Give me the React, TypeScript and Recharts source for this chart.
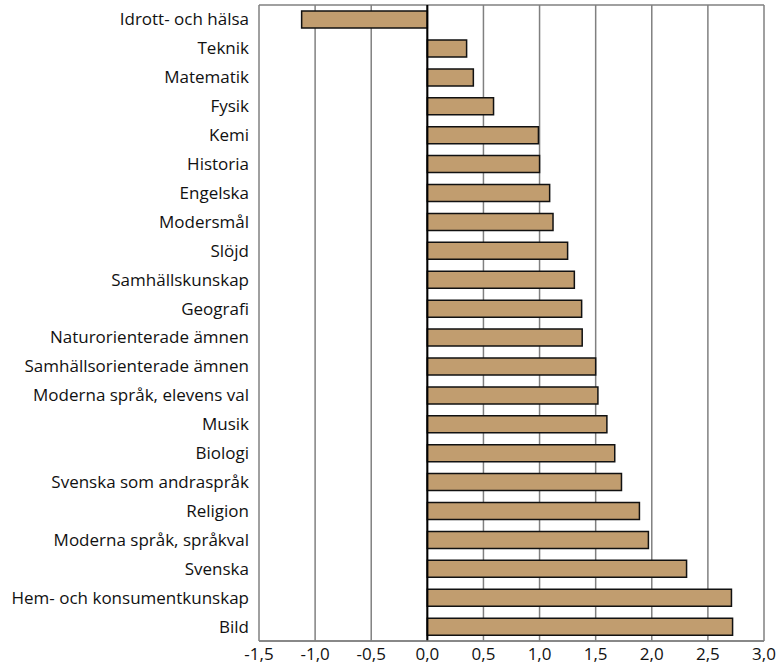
import { BarChart, Bar, XAxis, YAxis, CartesianGrid, ReferenceLine } from 'recharts';

// Ämnen, uppifrån och ned
const subjects = [
  'Idrott- och hälsa',
  'Teknik',
  'Matematik',
  'Fysik',
  'Kemi',
  'Historia',
  'Engelska',
  'Modersmål',
  'Slöjd',
  'Samhällskunskap',
  'Geografi',
  'Naturorienterade ämnen',
  'Samhällsorienterade ämnen',
  'Moderna språk, elevens val',
  'Musik',
  'Biologi',
  'Svenska som andraspråk',
  'Religion',
  'Moderna språk, språkval',
  'Svenska',
  'Hem- och konsumentkunskap',
  'Bild',
];

const values = [
  -1.12, 0.35, 0.41, 0.59, 0.99, 1.0, 1.09, 1.12, 1.25, 1.31, 1.375,
  1.38, 1.5, 1.52, 1.6, 1.67, 1.73, 1.89, 1.97, 2.31, 2.71, 2.72,
];

const xTicks = [-1.5, -1.0, -0.5, 0, 0.5, 1.0, 1.5, 2.0, 2.5, 3.0];

const data = subjects.map((name, i) => ({ name, value: values[i] }));

const font = '"Open Sans", sans-serif';

export default function App() {
  return (
    <div style={{ width: 780, height: 668, background: '#fff' }}>
      <style>{`body{margin:0}`}</style>
      <BarChart
        width={780}
        height={668}
        data={data}
        layout="vertical"
        margin={{ top: 5, right: 16, bottom: 0, left: 0 }}
        barCategoryGap="21%"
      >
        <CartesianGrid
          stroke="#808080"
          strokeWidth={1.5}
          horizontalCoordinatesGenerator={({ offset }: any) => [offset.top, offset.top + offset.height]}
        />
        <XAxis
          type="number"
          domain={[-1.5, 3]}
          ticks={xTicks}
          tickFormatter={(v: number) => v.toFixed(1).replace('.', ',')}
          tickLine={false}
          axisLine={{ stroke: '#808080', strokeWidth: 1.5 }}
          tick={{ fill: '#111', fontSize: 17, fontFamily: font }}
          tickSize={5}
          tickMargin={2}
          height={27}
          interval={0}
        />
        <YAxis
          type="category"
          dataKey="name"
          width={259}
          tickLine={false}
          axisLine={false}
          tick={{ fill: '#111', fontSize: 17, fontFamily: font }}
          tickSize={6}
          tickMargin={4}
          interval={0}
        />
        <Bar dataKey="value" fill="#C19D6F" stroke="#111" strokeWidth={1.5} isAnimationActive={false} />
        <ReferenceLine x={0} stroke="#000" strokeWidth={2} />
      </BarChart>
    </div>
  );
}
